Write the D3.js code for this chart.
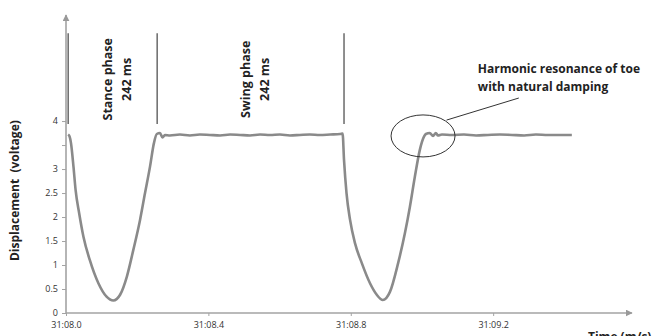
<!DOCTYPE html>
<html>
<head>
<meta charset="utf-8">
<script src="https://cdn.jsdelivr.net/npm/d3@7"></script>
<style>
    body { margin: 0; background: #fff; }
    #chart { width: 653px; height: 336px; }
    text { font-family: "Open Sans", sans-serif; }
</style>
</head>
<body>
<div id="chart"></div>
<script>
// time in seconds after 31:08.0, displacement in volts
const times = [
    0.006, 0.010, 0.014, 0.021, 0.027, 0.037, 0.049, 0.067, 0.091, 0.114,
    0.133, 0.152, 0.171, 0.189, 0.208, 0.222, 0.236, 0.247, 0.255, 0.264,
    0.271, 0.278, 0.292, 0.320, 0.348, 0.376, 0.404, 0.433, 0.461, 0.489,
    0.517, 0.545, 0.573, 0.601, 0.629, 0.657, 0.685, 0.713, 0.742, 0.770,
    0.777, 0.781, 0.788, 0.798, 0.812, 0.831, 0.854, 0.873, 0.890, 0.910,
    0.933, 0.952, 0.966, 0.980, 0.994, 1.006, 1.011, 1.022, 1.031, 1.039,
    1.045, 1.056, 1.084, 1.118, 1.152, 1.185, 1.219, 1.253, 1.287, 1.320,
    1.354, 1.388, 1.421
];
const voltage = [
    3.72, 3.68, 3.54, 3.05, 2.56, 2.08, 1.59, 1.10, 0.62, 0.34,
    0.26, 0.38, 0.76, 1.31, 1.94, 2.50, 3.05, 3.54, 3.73, 3.75,
    3.66, 3.71, 3.70, 3.72, 3.70, 3.72, 3.71, 3.70, 3.72, 3.71,
    3.70, 3.72, 3.71, 3.72, 3.70, 3.71, 3.72, 3.71, 3.72, 3.73,
    3.74, 3.19, 2.50, 1.94, 1.45, 1.04, 0.62, 0.38, 0.27, 0.44,
    1.04, 1.66, 2.21, 2.84, 3.40, 3.68, 3.73, 3.75, 3.69, 3.75,
    3.70, 3.72, 3.71, 3.72, 3.70, 3.71, 3.72, 3.71, 3.70, 3.72,
    3.71, 3.71, 3.71
];

const yTickValues = [0, 0.5, 1, 1.5, 2, 2.5, 3, 3.5, 4];
const yTickLabels = ["0", "0.5", "1", "1.5", "2", "2.5", "3", "", "4"];
const xTickValues = [0, 0.4, 0.8, 1.2];
const xTickLabels = ["31:08.0", "31:08.4", "31:08.8", "31:09.2"];

// phase boundaries (s) and the phases between them
const phaseLines = [0.006, 0.256, 0.781];
const phaseLineRange = [3.94, 5.83];
const phaseNames = ["Stance phase", "Swing phase"];
const phaseDurations = ["242 ms", "242 ms"];

const noteLines = ["Harmonic resonance of toe", "with natural damping"];

const width = 653;
const height = 336;
const margin = { top: 15, right: 21, bottom: 23, left: 66 };

const svg = d3.select("#chart")
    .append("svg")
    .attr("width", width)
    .attr("height", height);

const x = d3.scaleLinear()
    .domain([0, 1.59])
    .range([margin.left, width - margin.right]);

const y = d3.scaleLinear()
    .domain([0, 6.21])
    .range([height - margin.bottom, margin.top]);

const axisColor = "#a3a3a3";

svg.append("defs").append("marker")
    .attr("id", "arrow")
    .attr("viewBox", "0 0 10 10")
    .attr("refX", 9)
    .attr("refY", 5)
    .attr("markerWidth", 7)
    .attr("markerHeight", 7)
    .attr("markerUnits", "userSpaceOnUse")
    .attr("orient", "auto")
    .append("path")
    .attr("d", "M0,0L10,5L0,10Z")
    .attr("fill", "#999");

// y axis
const yAxis = svg.append("g")
    .attr("transform", `translate(${margin.left},0)`)
    .call(d3.axisLeft(y)
        .tickValues(yTickValues)
        .tickFormat((d, i) => yTickLabels[i])
        .tickSize(4)
        .tickPadding(4));
yAxis.select(".domain").remove();
yAxis.selectAll(".tick line").attr("stroke", axisColor);
yAxis.selectAll(".tick text")
    .attr("fill", "#333")
    .attr("font-size", "9px")
    .attr("font-family", "'Open Sans', sans-serif");

svg.append("line")
    .attr("x1", x(0)).attr("x2", x(0))
    .attr("y1", y(0)).attr("y2", y.range()[1])
    .attr("stroke", axisColor)
    .attr("stroke-width", 1.6)
    .attr("marker-end", "url(#arrow)");

// x axis
const xAxis = svg.append("g")
    .attr("transform", `translate(0,${y(0)})`)
    .call(d3.axisBottom(x)
        .tickValues(xTickValues)
        .tickFormat((d, i) => xTickLabels[i])
        .tickSize(3)
        .tickPadding(6));
xAxis.select(".domain").remove();
xAxis.selectAll(".tick line").attr("stroke", axisColor);
xAxis.selectAll(".tick text")
    .attr("fill", "#333")
    .attr("font-size", "9px")
    .attr("font-family", "'Open Sans', sans-serif");

svg.append("line")
    .attr("x1", x(0)).attr("x2", x.range()[1])
    .attr("y1", y(0)).attr("y2", y(0))
    .attr("stroke", axisColor)
    .attr("stroke-width", 1.6)
    .attr("marker-end", "url(#arrow)");

// axis labels
svg.append("text")
    .attr("transform", `translate(19,${y(2.55)}) rotate(-90)`)
    .attr("text-anchor", "middle")
    .attr("font-weight", "bold")
    .attr("font-size", "12px")
    .attr("fill", "#222")
    .attr("xml:space", "preserve")
    .text("Displacement  (voltage)");

// sits low, partly below the edge, as in the original
svg.append("text")
    .attr("x", 588)
    .attr("y", 341)
    .attr("font-weight", "bold")
    .attr("font-size", "12px")
    .attr("fill", "#222")
    .text("Time (m/s)");

// phase boundaries
svg.selectAll(".phase-line")
    .data(phaseLines)
    .join("line")
    .attr("class", "phase-line")
    .attr("x1", d => x(d)).attr("x2", d => x(d))
    .attr("y1", y(phaseLineRange[0])).attr("y2", y(phaseLineRange[1]))
    .attr("stroke", "#333")
    .attr("stroke-width", 1.1);

const phaseLabels = svg.selectAll(".phase-label")
    .data(phaseNames)
    .join("text")
    .attr("class", "phase-label")
    .attr("transform", (d, i) => {
        const mid = (phaseLines[i] + phaseLines[i + 1]) / 2;
        return `translate(${x(mid) - 1},${y(4.87)}) rotate(-90)`;
    })
    .attr("text-anchor", "middle")
    .attr("font-weight", "bold")
    .attr("font-size", "12.5px")
    .attr("fill", "#222");
phaseLabels.append("tspan")
    .attr("x", 0)
    .text(d => d);
phaseLabels.append("tspan")
    .attr("x", 0)
    .attr("dy", 19)
    .text((d, i) => phaseDurations[i]);

// signal
const points = times.map((t, i) => [t, voltage[i]]);
const line = d3.line()
    .x(d => x(d[0]))
    .y(d => y(d[1]))
    .curve(d3.curveMonotoneX);

svg.append("path")
    .datum(points)
    .attr("fill", "none")
    .attr("stroke", "#8a8a8a")
    .attr("stroke-width", 2.6)
    .attr("stroke-linejoin", "round")
    .attr("d", line);

// annotation
const noteCenter = [1.003, 3.69];
svg.append("ellipse")
    .attr("cx", x(noteCenter[0]))
    .attr("cy", y(noteCenter[1]))
    .attr("rx", 32)
    .attr("ry", 21)
    .attr("fill", "none")
    .attr("stroke", "#333")
    .attr("stroke-width", 1);

svg.append("line")
    .attr("x1", x(1.069)).attr("y1", y(4.02))
    .attr("x2", x(1.272)).attr("y2", y(4.48))
    .attr("stroke", "#333")
    .attr("stroke-width", 1);

svg.append("text")
    .attr("x", x(1.157))
    .attr("y", y(5.0))
    .attr("font-weight", "bold")
    .attr("font-size", "12px")
    .attr("fill", "#222")
    .selectAll("tspan")
    .data(noteLines)
    .join("tspan")
    .attr("x", x(1.157))
    .attr("dy", (d, i) => i === 0 ? 0 : 18)
    .text(d => d);
</script>
</body>
</html>
